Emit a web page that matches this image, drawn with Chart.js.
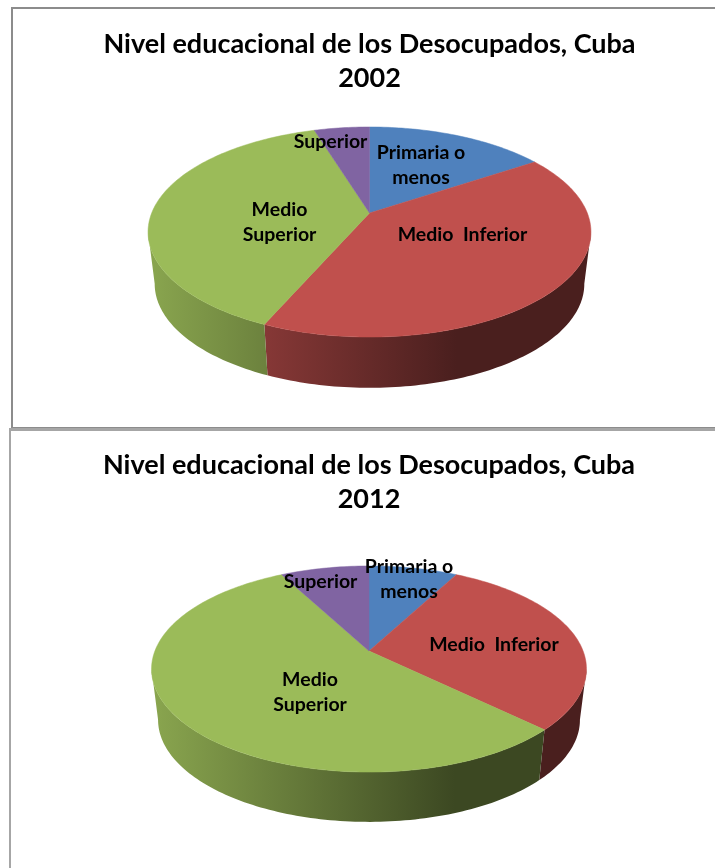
<!DOCTYPE html>
<html>
<head>
<meta charset="utf-8">
<title>Nivel educacional de los Desocupados, Cuba</title>
<script src="https://cdn.jsdelivr.net/npm/chart.js@4/dist/chart.umd.min.js"></script>
<style>
    html, body { margin: 0; padding: 0; background: #fff; overflow: hidden; width: 715px; height: 868px; }
    canvas { position: absolute; display: block; }
    .frame { position: absolute; box-sizing: border-box; background: none; }
    #frame1 { left: 11px; top: 7px; width: 720px; height: 422px; border: 2px solid #8c8c8c; }
    #frame2 { left: 9px; top: 428px; width: 720px; height: 460px; border: 2px solid #a6a6a6; border-top-width: 3px; }
    #chart1 { left: 12px; top: 0; }
    #chart2 { left: 10px; top: 430px; }
</style>
</head>
<body>
<canvas id="chart1" width="715" height="428"></canvas>
<canvas id="chart2" width="718" height="438"></canvas>
<div class="frame" id="frame1"></div>
<div class="frame" id="frame2"></div>
<script>
// Donnees (en %)
const categories = ['Primaria o menos', 'Medio  Inferior', 'Medio Superior', 'Superior'];
const values2002 = [15.7, 40.9, 38.6, 4.8];
const values2012 = [7.8, 29.4, 55.0, 7.8];
const colors = ['#4f81bd', '#c0504d', '#9bbb59', '#8064a2'];
const titleLine1 = 'Nivel educacional de los Desocupados, Cuba';

// Lignes des etiquettes
const labelLines = [['Primaria o', 'menos'], ['Medio  Inferior'], ['Medio', 'Superior'], ['Superior']];

function shade(hex, f) {
    const n = parseInt(hex.slice(1), 16);
    const r = Math.round((n >> 16 & 255) * f);
    const g = Math.round((n >> 8 & 255) * f);
    const b = Math.round((n & 255) * f);
    return `rgb(${r},${g},${b})`;
}

// Projection du disque en perspective : le centre du camembert n'est pas le centre de l'ellipse
function rimPoint(g, cx, angle, isBase) {
    const u = Math.cos(angle);
    const v = Math.sin(angle);
    const w = 1 - g.k * v;
    if (isBase) {
        return [cx + g.A * g.baseX * u / w, g.apexY + g.depth + g.B * g.baseY * v / w];
    }
    return [cx + g.A * u / w, g.apexY + g.B * v / w];
}

function traceRim(ctx, g, cx, from, to, isBase, first) {
    const steps = Math.max(2, Math.ceil(Math.abs(to - from) / 0.02));
    for (let i = 0; i <= steps; i++) {
        const p = rimPoint(g, cx, from + (to - from) * i / steps, isBase);
        if (i === 0 && first) ctx.moveTo(p[0], p[1]);
        else ctx.lineTo(p[0], p[1]);
    }
}

// Plugin : dessine les parts a partir des angles calcules par Chart.js
const pie3d = {
    id: 'pie3d',
    beforeDatasetsDraw(chart, args, g) {
        const ctx = chart.ctx;
        const arcs = chart.getDatasetMeta(0).data;
        const cx = arcs[0].x;
        // la paroi visible s'arrete aux points les plus a gauche et a droite de l'ellipse
        const wallMin = Math.asin(g.k);
        const wallMax = Math.PI - wallMin;

        ctx.save();

        // Parois
        arcs.forEach((arc, i) => {
            const from = Math.max(arc.startAngle, wallMin);
            const to = Math.min(arc.endAngle, wallMax);
            if (to <= from) return;
            const grad = ctx.createLinearGradient(cx - g.A * 1.02, 0, cx + g.A * 1.02, 0);
            grad.addColorStop(0, shade(colors[i], 0.89));
            grad.addColorStop(0.696, shade(colors[i], 0.385));
            grad.addColorStop(1, shade(colors[i], 0.385));
            ctx.fillStyle = grad;
            ctx.beginPath();
            traceRim(ctx, g, cx, from, to, false, true);
            traceRim(ctx, g, cx, to, from, true, false);
            ctx.closePath();
            ctx.fill();
        });

        // Dessus
        arcs.forEach((arc, i) => {
            ctx.fillStyle = colors[i];
            ctx.strokeStyle = colors[i];
            ctx.lineWidth = 0.5;
            ctx.beginPath();
            ctx.moveTo(cx, g.apexY);
            traceRim(ctx, g, cx, arc.startAngle, arc.endAngle, false, false);
            ctx.closePath();
            ctx.fill();
            ctx.stroke();
        });

        // Etiquettes
        ctx.fillStyle = '#000';
        ctx.font = 'bold 19.5px Lato';
        ctx.textAlign = 'center';
        ctx.textBaseline = 'middle';
        arcs.forEach((arc, i) => {
            labelLines[i].forEach((line, j) => {
                ctx.fillText(line, cx + g.labelAt[i][0], g.apexY + g.labelAt[i][1] + j * 25);
            });
        });

        ctx.restore();
        return false;
    }
};

function makeChart(id, year, values, titleTop, geometry) {
    return new Chart(document.getElementById(id), {
        type: 'pie',
        data: {
            labels: categories,
            datasets: [{ data: values, backgroundColor: colors, borderWidth: 0 }]
        },
        options: {
            responsive: false,
            animation: false,
            events: [],
            plugins: {
                legend: { display: false },
                tooltip: { enabled: false },
                title: {
                    display: true,
                    text: [titleLine1, year],
                    color: '#000',
                    font: { family: 'Lato', weight: 'bold', size: 27, lineHeight: 1.26 },
                    padding: { top: titleTop, bottom: 0 }
                },
                pie3d: geometry
            }
        },
        plugins: [pie3d]
    });
}

makeChart('chart1', '2002', values2002, 27, {
    apexY: 213, A: 217.8, B: 101.6, k: 0.181, depth: 52, baseX: 0.97, baseY: 0.99,
    labelAt: [[51.5, -60], [93, 22], [-90, -3], [-39, -71]]
});

makeChart('chart2', '2012', values2012, 18, {
    apexY: 221, A: 214.1, B: 99.9, k: 0.175, depth: 51, baseX: 0.97, baseY: 0.99,
    labelAt: [[40, -84], [125, -6], [-59, 29], [-48.5, -69]]
});
</script>
</body>
</html>
